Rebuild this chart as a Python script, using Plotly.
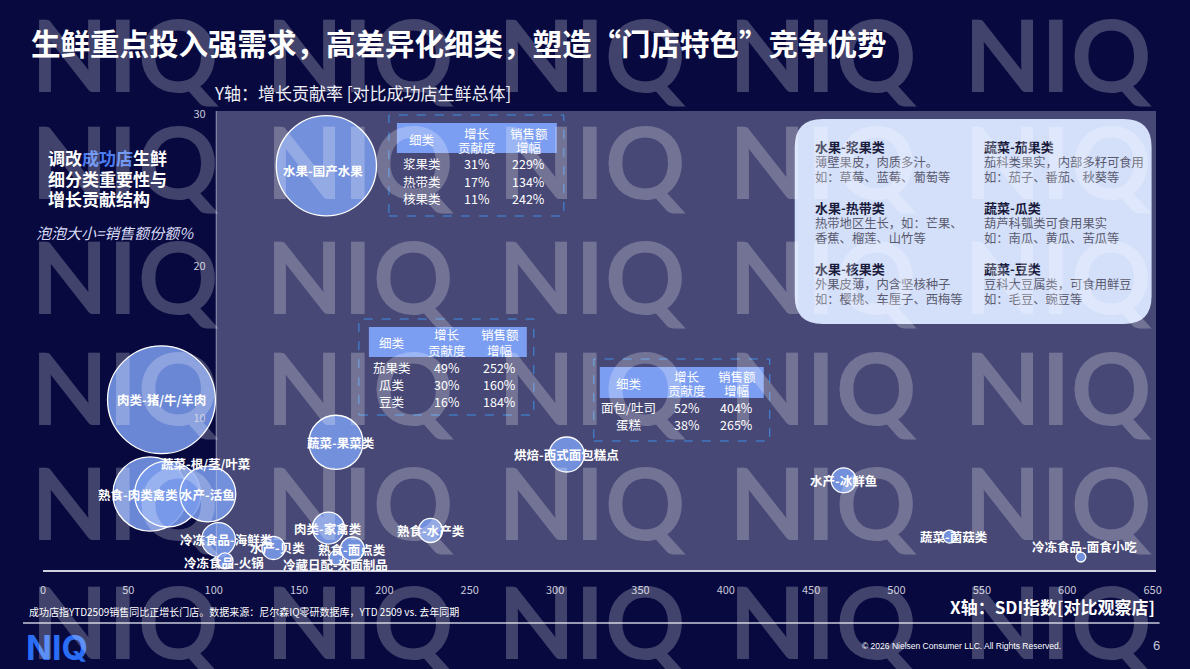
import plotly.graph_objects as go

# ---------------- data ----------------
categories = ["水果-国产水果", "肉类-猪/牛/羊肉", "熟食-肉类禽类", "蔬菜-根/茎/叶菜", "水产-活鱼",
              "蔬菜-果菜类", "烘焙-西式面包糕点", "水产-冰鲜鱼", "熟食-水产类", "蔬菜-菌菇类",
              "冷冻食品-面食小吃", "冷冻食品-海鲜类", "冷冻食品-火锅", "水产-贝类", "肉类-家禽类",
              "熟食-面点类", "冷藏日配-米面制品"]
sdi_index = [166.0, 69.4, 62.7, 73.0, 96.6, 171.6, 306.8, 469.0, 227.0, 531.0,
             608.0, 102.8, 106.6, 135.0, 167.2, 181.2, 171.6]
growth_contrib = [26.6, 11.2, 5.0, 5.0, 5.0, 8.4, 7.6, 5.9, 2.6, 2.2,
                  0.85, 2.0, 0.6, 1.45, 2.76, 1.38, 0.8]
sales_share = [11.3, 13.1, 6.2, 4.9, 3.5, 3.3, 1.38, 0.70, 0.65, 0.19,
               0.11, 1.3, 0.29, 0.6, 1.15, 0.65, 0.22]

x_ticks = [0, 50, 100, 150, 200, 250, 300, 350, 400, 450, 500, 550, 600, 650]
y_ticks = [10, 20, 30]

t1_subcats = ["浆果类", "热带类", "核果类"]
t1_contrib = ["31%", "17%", "11%"]
t1_growth = ["229%", "134%", "242%"]
t2_subcats = ["茄果类", "瓜类", "豆类"]
t2_contrib = ["49%", "30%", "16%"]
t2_growth = ["252%", "160%", "184%"]
t3_subcats = ["面包/吐司", "蛋糕"]
t3_contrib = ["52%", "38%"]
t3_growth = ["404%", "265%"]

info_left = [("水果-浆果类", "薄壁果皮，肉质多汁。", "如：草莓、蓝莓、葡萄等"),
             ("水果-热带类", "热带地区生长，如：芒果、", "香蕉、榴莲、山竹等"),
             ("水果-核果类", "外果皮薄，内含坚核种子", "如：樱桃、车厘子、西梅等")]
info_right = [("蔬菜-茄果类", "茄科类果实，内部多籽可食用", "如：茄子、番茄、秋葵等"),
              ("蔬菜-瓜类", "葫芦科瓠类可食用果实", "如：南瓜、黄瓜、苦瓜等"),
              ("蔬菜-豆类", "豆科大豆属类，可食用鲜豆", "如：毛豆、豌豆等")]

# ---------------- layout geometry (pixels) ----------------
W, H = 1190, 669
L, R, T, B = 43, 1156.4, 111, 570
PW, PH = R - L, B - T
CJK = "Noto Sans CJK SC, Noto Sans, sans-serif"
BG = "#07093f"


def px(x):
    return (x - L) / PW


def py(y):
    return (B - y) / PH


label_shift = {
    "水果-国产水果": (-3, -5), "熟食-肉类禽类": (-12, 0), "蔬菜-根/茎/叶菜": (38, 31),
    "蔬菜-果菜类": (5, 0), "冷冻食品-面食小吃": (4, 11), "冷冻食品-海鲜类": (8, 0),
    "水产-贝类": (4, 0), "冷藏日配-米面制品": (0, -7), "蔬菜-菌菇类": (5, 0),
    "冷冻食品-火锅": (-1, -2),
}

fig = go.Figure()
fig.add_trace(go.Scatter(
    x=sdi_index, y=growth_contrib, mode="markers",
    marker=dict(size=sales_share, sizemode="area", sizeref=1 / (2 * 222), opacity=1,
                color="rgba(122,156,238,0.86)", line=dict(color="white", width=1.3)),
    hoverinfo="skip", showlegend=False, cliponaxis=False,
))

shapes = []
annotations = []

# shaded plot region
shapes.append(dict(type="rect", xref="x", yref="y", x0=101, x1=652, y0=0, y1=30.2,
                   fillcolor="#474876", line=dict(width=0), layer="below"))

# bubble labels
for c, xv, yv in zip(categories, sdi_index, growth_contrib):
    dx, dy = label_shift.get(c, (0, 0))
    annotations.append(dict(x=xv, y=yv, xref="x", yref="y", text="<b>" + c + "</b>",
                            showarrow=False, xshift=dx, yshift=dy,
                            font=dict(family=CJK, size=12.5, color="white")))


def add_text(xp, yp, text, size, color="white", xanchor="center", yanchor="middle", family=CJK, align="center"):
    annotations.append(dict(x=px(xp), y=py(yp), xref="paper", yref="paper", text=text,
                            showarrow=False, xanchor=xanchor, yanchor=yanchor, align=align,
                            font=dict(family=family, size=size, color=color)))


def add_table(border, header, cols, head_y, rows_y, subcats, contrib, growth):
    bx0, by0, bx1, by1 = border
    shapes.append(dict(type="rect", xref="paper", yref="paper", x0=px(bx0), x1=px(bx1),
                       y0=py(by1), y1=py(by0), line=dict(color="#3f8ee6", width=1, dash="dash"),
                       fillcolor="rgba(0,0,0,0)", layer="above"))
    hx0, hy0, hx1, hy1 = header
    shapes.append(dict(type="rect", xref="paper", yref="paper", x0=px(hx0), x1=px(hx1),
                       y0=py(hy1), y1=py(hy0), line=dict(width=0), fillcolor="#7c9ef2", layer="above"))
    mid = (head_y[0] + head_y[1]) / 2
    add_text(cols[0], mid, "细类", 12.5)
    add_text(cols[1], head_y[0], "增长", 12.5)
    add_text(cols[1], head_y[1], "贡献度", 12.5)
    add_text(cols[2], head_y[0], "销售额", 12.5)
    add_text(cols[2], head_y[1], "增幅", 12.5)
    for ry, a, b, c in zip(rows_y, subcats, contrib, growth):
        add_text(cols[0], ry, a, 12.5)
        add_text(cols[1], ry, b, 12.5)
        add_text(cols[2], ry, c, 12.5)


add_table((389, 115, 564, 216), (397, 123, 557, 153), [422, 477, 529], [133, 147], [163, 181, 198],
          t1_subcats, t1_contrib, t1_growth)
add_table((359, 319, 534, 415), (369, 327, 527, 357), [392, 447, 500], [334, 350], [367, 384, 401],
          t2_subcats, t2_contrib, t2_growth)
add_table((594, 359, 770, 441), (600, 367, 764, 398), [629, 687, 737], [376, 390], [407, 424],
          t3_subcats, t3_contrib, t3_growth)

# rounded info box
x0, y0, x1, y1, r = 795, 119, 1152, 324, 28


def P(x, y):
    return f"{px(x):.5f},{py(y):.5f}"


path = (f"M {P(x0 + r, y0)} L {P(x1 - r, y0)} Q {P(x1, y0)} {P(x1, y0 + r)} "
        f"L {P(x1, y1 - r)} Q {P(x1, y1)} {P(x1 - r, y1)} L {P(x0 + r, y1)} "
        f"Q {P(x0, y1)} {P(x0, y1 - r)} L {P(x0, y0 + r)} Q {P(x0, y0)} {P(x0 + r, y0)} Z")
shapes.append(dict(type="path", xref="paper", yref="paper", path=path, fillcolor="#d4e0fa",
                   line=dict(width=0), layer="above"))

block_y = [146, 207, 268]
for col_x, blocks in ((813, info_left), (982, info_right)):
    for by, (head, l1, l2) in zip(block_y, blocks):
        add_text(col_x, by, "<b>" + head + "</b>", 13, color="#1b1b3c", xanchor="left")
        add_text(col_x, by + 16, l1, 12.3, color="#5a5a6e", xanchor="left")
        add_text(col_x, by + 31, l2, 12.3, color="#5a5a6e", xanchor="left")

# titles and texts
add_text(29, 42, "<b>生鲜重点投入强需求，高差异化细类，塑造“门店特色”竞争优势</b>", 29.5, xanchor="left")
add_text(212, 92, "Y轴：增长贡献率 [对比成功店生鲜总体]", 17, color="#eeeef6", xanchor="left")
add_text(46, 157, "<b>调改<span style='color:#4a7cf0'>成功店</span>生鲜</b>", 17, xanchor="left")
add_text(46, 178, "<b>细分类重要性与</b>", 17, xanchor="left")
add_text(46, 198, "<b>增长贡献结构</b>", 17, xanchor="left")
add_text(34, 232, "<i>泡泡大小=销售额份额%</i>", 15, color="#d8dcf5", xanchor="left")
add_text(1157, 606, "<b>X轴：SDI指数[对比观察店]</b>", 17, xanchor="right")
add_text(27, 611, "成功店指YTD2509销售同比正增长门店。数据来源：尼尔森IQ零研数据库，YTD 2509 vs. 去年同期",
         10, xanchor="left")
add_text(1063, 646, "© 2026 Nielsen Consumer LLC. All Rights Reserved.", 8.5, xanchor="right",
         family="Liberation Sans, Arial, sans-serif")
add_text(1157, 645, "6", 13, color="#c8c8d8", xanchor="center", family="Liberation Sans, Arial, sans-serif")
add_text(24, 647, "<b>NIQ</b>", 34, color="#2b6ef5", xanchor="left", family="Inter, Noto Sans, sans-serif")

# footer divider
shapes.append(dict(type="line", xref="paper", yref="paper", x0=px(23), x1=px(1160), y0=py(623), y1=py(623),
                   line=dict(color="#c8c8d8", width=1.5), layer="above"))

# watermark (on top of everything)
for row_center in [53, 160, 275, 386, 501, 620]:
    for col_left in [29, 264, 496, 727, 962]:
        add_text(col_left, row_center, "<b>NIQ</b>", 100, color="rgba(255,255,255,0.24)", xanchor="left",
                 family="Lato, Inter, sans-serif")

fig.update_layout(
    width=W, height=H, autosize=False,
    margin=dict(l=L, r=W - R, t=T, b=H - B, pad=0),
    paper_bgcolor=BG, plot_bgcolor=BG,
    font=dict(family=CJK, color="white"),
    shapes=shapes, annotations=annotations,
    xaxis=dict(range=[0, 652], tickvals=x_ticks, showgrid=False, zeroline=False,
               showline=True, linecolor="#d0d0e0", linewidth=1.5, ticks="",
               ticklabelstandoff=9, tickfont=dict(size=11, color="#c8c8d8"), fixedrange=True),
    yaxis=dict(range=[0, 30.2], tickvals=y_ticks, showgrid=False, zeroline=False,
               anchor="free", position=px(216), showline=True, linecolor="rgba(200,200,220,0.45)",
               linewidth=1, ticks="", ticklabelstandoff=8, tickfont=dict(size=11, color="#c8c8d8"),
               fixedrange=True),
    hovermode=False,
)

fig.write_html("out.html", config={"displayModeBar": False},
               post_script="document.body.style.margin='0px';document.body.style.background='" + BG + "';")
